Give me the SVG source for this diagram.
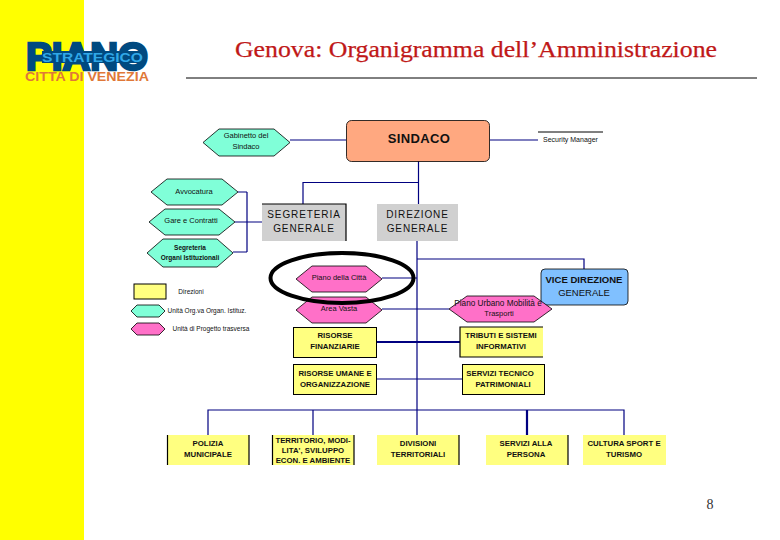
<svg xmlns="http://www.w3.org/2000/svg" width="780" height="540" viewBox="0 0 780 540">
<style>
text{font-family:"Liberation Sans",Arial,sans-serif;text-anchor:middle;fill:#111}
.c{fill:none;stroke:#000080;stroke-width:1.2}
.t{stroke-width:2.2}
.teal{fill:#80ffd8;stroke:#000;stroke-width:.8}
.pink{fill:#ff70c8;stroke:#000;stroke-width:.8}
.y{fill:#ffff80}
.yb{fill:#ffff80;stroke:#000;stroke-width:1}
.edge{stroke:#000;stroke-width:1.2;fill:none}
.g{fill:#d0d0d0}
.s{font-size:7.500px}
.m{font-size:7.800px;font-weight:bold}
.l{font-size:10px;letter-spacing:.9px}
</style>
<rect width="780" height="540" fill="#fff"/>
<rect id="band" width="84" height="540" fill="#ffff00"/>
<g id="logo">
<text x="87" y="70" font-size="38" font-weight="bold" textLength="122" lengthAdjust="spacingAndGlyphs" style="fill:#004a80;stroke:#004a80;stroke-width:2.500">PIANO</text>
<rect x="42" y="51" width="101" height="12" fill="#004a80"/>
<text x="92.500" y="61.500" font-size="12" font-weight="bold" textLength="101" lengthAdjust="spacingAndGlyphs" style="fill:#30a8e8">STRATEGICO</text>
<text x="87" y="81" font-size="13" font-weight="bold" textLength="124" lengthAdjust="spacingAndGlyphs" style="fill:#e07838">CITTA DI VENEZIA</text>
</g>
<text id="title" x="476" y="57" font-size="23" textLength="482" lengthAdjust="spacingAndGlyphs" style="font-family:'Liberation Serif',serif;fill:#c01818;stroke:#c01818;stroke-width:.25">Genova: Organigramma dell’Amministrazione</text>
<path id="rule" d="M186 78H757" stroke="#000" stroke-width="1"/>
<g id="connectors">
<path class="c" d="M290 140H346M490 140H538M418.500 161V204M303 204V182.500H418.500M417 241V435M247 192V252M238 192H247M233 252H247M235 222H262M382 278H417M382 309H417M417 259H584V269M449 309H417M377 379H462M208 435V410H624V435M313 410V435"/>
<path class="c t" d="M377 342H460M527 410V435"/>
</g>
<g id="gabinetto"><polygon class="teal" points="203,142.500 219,129 274,129 290,142.500 274,156 219,156"/><text class="s" x="246" y="138">Gabinetto del</text><text class="s" x="246" y="149">Sindaco</text></g>
<g id="sindaco"><rect x="346.500" y="120.500" width="143" height="41" rx="5" fill="#ffa880" stroke="#000" stroke-width=".8"/><text x="419" y="143" font-size="13" font-weight="bold" letter-spacing=".4">SINDACO</text></g>
<g id="security"><path d="M538 132H603" stroke="#000" stroke-width="1"/><text x="570.500" y="142" font-size="7">Security Manager</text></g>
<g id="avvocatura"><polygon class="teal" points="151,192 167,179 222,179 238,192 222,205 167,205"/><text class="s" x="194" y="194">Avvocatura</text></g>
<g id="gare"><polygon class="teal" points="149,222 165,209 219,209 235,222 219,235 165,235"/><text class="s" x="191" y="223">Gare e Contratti</text></g>
<g id="segorgani"><polygon class="teal" points="147,253 163,239 217,239 233,253 217,267 163,267"/><text x="190" y="250" font-size="6.500" font-weight="bold">Segreteria</text><text x="190" y="260" font-size="6.500" font-weight="bold">Organi Istituzionali</text></g>
<g id="segreteria"><rect class="g" x="262" y="204" width="84" height="37"/><path class="edge" d="M262 204H346V241"/><text class="l" x="304" y="218">SEGRETERIA</text><text class="l" x="304" y="232">GENERALE</text></g>
<g id="direzione"><rect class="g" x="377" y="204" width="81" height="37"/><text class="l" x="417.500" y="218">DIREZIONE</text><text class="l" x="417.500" y="232">GENERALE</text></g>
<g id="legend">
<rect x="134" y="284" width="32" height="15" class="yb"/><text x="191" y="294" font-size="6.500">Direzioni</text>
<polygon class="teal" points="131,311 137,305 159,305 165,311 159,317 137,317"/><text x="207" y="313" font-size="6.500">Unità Org.va Organ. Istituz.</text>
<polygon class="pink" points="131,329 137,323 159,323 165,329 159,335 137,335"/><text x="211" y="331" font-size="6.500">Unità di Progetto trasversa</text>
</g>
<g id="pianocitta"><polygon class="pink" points="296,279 312,266 366,266 382,279 366,292 312,292"/><text class="s" x="339" y="280">Piano della Città</text></g>
<g id="areavasta"><polygon class="pink" points="296,310 312,297 366,297 382,310 366,323 312,323"/><text class="s" x="339" y="311">Area Vasta</text></g>
<g id="vice"><rect x="541" y="269" width="87" height="36" rx="4" fill="#80c0ff" stroke="#000" stroke-width=".8"/><text x="584" y="283" font-size="9.500" font-weight="bold" textLength="77" lengthAdjust="spacingAndGlyphs">VICE DIREZIONE</text><text x="584" y="296" font-size="9.500">GENERALE</text></g>
<g id="pum"><polygon class="pink" points="449,309 467,296 534,296 552,309 534,322 467,322"/><text x="498" y="306" font-size="8.200">Piano Urbano Mobilità e</text><text class="s" x="499" y="316">Trasporti</text></g>
<g id="finanziarie"><rect class="yb" x="293.500" y="327.500" width="83" height="30"/><text class="m" x="335" y="338">RISORSE</text><text class="m" x="335" y="349">FINANZIARIE</text></g>
<g id="tributi"><rect class="y" x="460" y="327" width="83" height="30"/><path class="edge" d="M543 327H460V357H543"/><text class="m" x="501" y="338">TRIBUTI E SISTEMI</text><text class="m" x="501" y="349">INFORMATIVI</text></g>
<g id="umane"><rect class="yb" x="293.500" y="364.500" width="83" height="30"/><text class="m" x="335" y="376">RISORSE UMANE E</text><text class="m" x="335" y="387">ORGANIZZAZIONE</text></g>
<g id="tecnico"><rect class="yb" x="462.500" y="364.500" width="82" height="30"/><text class="m" x="500" y="376">SERVIZI TECNICO</text><text class="m" x="503" y="387">PATRIMONIALI</text></g>
<g id="polizia"><rect class="y" x="167" y="435" width="82" height="30"/><path class="edge" d="M167.500 465V435M249 435V465"/><text class="m" x="208" y="446">POLIZIA</text><text class="m" x="208" y="457">MUNICIPALE</text></g>
<g id="territorio"><rect class="y" x="272" y="435" width="82" height="30"/><path class="edge" d="M272.500 465V435M354 435V465"/><text class="m" x="313" y="443">TERRITORIO, MODI-</text><text class="m" x="313" y="453">LITA', SVILUPPO</text><text class="m" x="313" y="463">ECON. E AMBIENTE</text></g>
<g id="divisioni"><rect class="y" x="377" y="435" width="82" height="30"/><path class="edge" d="M459 435V465"/><text class="m" x="418" y="446">DIVISIONI</text><text class="m" x="418" y="457">TERRITORIALI</text></g>
<g id="persona"><rect class="y" x="486" y="435" width="82" height="30"/><path class="edge" d="M568 435V465"/><text class="m" x="526" y="446">SERVIZI ALLA</text><text class="m" x="526" y="457">PERSONA</text></g>
<g id="cultura"><rect class="y" x="583" y="435" width="83" height="30"/><text class="m" x="624" y="446">CULTURA SPORT E</text><text class="m" x="624" y="457">TURISMO</text></g>
<ellipse id="highlight" cx="342" cy="278" rx="71.500" ry="25" fill="none" stroke="#000" stroke-width="4"/>
<text id="page" x="710" y="509" font-size="14" style="font-family:'Liberation Serif',serif;fill:#333">8</text>
</svg>
